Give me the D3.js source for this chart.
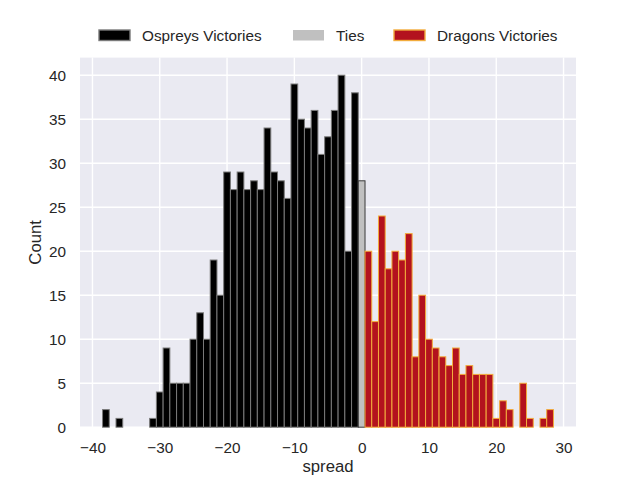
<!DOCTYPE html>
<html>
<head>
<meta charset="utf-8">
<script src="https://cdn.jsdelivr.net/npm/d3@7"></script>
<style>
  html, body { margin: 0; padding: 0; background: #ffffff; }
  svg { display: block; }
  text { font-family: "Liberation Sans", Arial, sans-serif; fill: #262626; }
</style>
</head>
<body>
<svg id="chart" width="640" height="480"></svg>
<script>
// ---- data ----
const ospreysSpread = d3.range(-38, 0);
const ospreysCounts = [2,0,1,0,0,0,0,1,4,9,5,5,5,10,13,10,19,15,29,27,29,27,28,27,34,29,28,26,39,35,34,36,31,33,36,40,20,38];
const tiesSpread = [0];
const tiesCounts = [28];
const dragonsSpread = d3.range(1, 29);
const dragonsCounts = [20,12,24,18,20,19,22,8,15,10,9,8,7,9,6,7,6,6,6,1,3,2,0,5,1,0,1,2];
const xTicks = [-40, -30, -20, -10, 0, 10, 20, 30];
const yTicks = [0, 5, 10, 15, 20, 25, 30, 35, 40];
const seriesNames = ["Ospreys Victories", "Ties", "Dragons Victories"];

const series = [
  { name: seriesNames[0], spread: ospreysSpread, counts: ospreysCounts, fill: "#000000", stroke: "#7a7a7a" },
  { name: seriesNames[1], spread: tiesSpread, counts: tiesCounts, fill: "#c0c0c0", stroke: "#3a3a3a" },
  { name: seriesNames[2], spread: dragonsSpread, counts: dragonsCounts, fill: "#b3121e", stroke: "#f2ac3c" }
];

// ---- layout ----
const svg = d3.select("#chart");
const L = 80, R = 576, T = 57.6, B = 427.2;

const allSpread = [].concat(ospreysSpread, tiesSpread, dragonsSpread);
const lo = d3.min(allSpread) - 0.5, hi = d3.max(allSpread) + 0.5;
const pad = (hi - lo) * 0.05;
const x = d3.scaleLinear().domain([lo - pad, hi + pad]).range([L, R]);
const yMax = d3.max([].concat(ospreysCounts, tiesCounts, dragonsCounts)) * 1.05;
const y = d3.scaleLinear().domain([0, yMax]).range([B, T]);

// background
svg.append("rect").attr("x", L).attr("y", T).attr("width", R - L).attr("height", B - T).attr("fill", "#eaeaf2");

// grid
const grid = svg.append("g");
grid.selectAll(".gx").data(xTicks).join("line")
  .attr("x1", d => x(d)).attr("x2", d => x(d)).attr("y1", T).attr("y2", B)
  .attr("stroke", "#ffffff").attr("stroke-width", 1.4);
grid.selectAll(".gy").data(yTicks).join("line")
  .attr("x1", L).attr("x2", R).attr("y1", d => y(d)).attr("y2", d => y(d))
  .attr("stroke", "#ffffff").attr("stroke-width", 1.4);

// bars
series.forEach(s => {
  const data = s.spread.map((v, i) => ({ v, c: s.counts[i] })).filter(d => d.c > 0);
  svg.append("g").selectAll("rect").data(data).join("rect")
    .attr("x", d => x(d.v - 0.5))
    .attr("width", d => x(d.v + 0.5) - x(d.v - 0.5))
    .attr("y", d => y(d.c))
    .attr("height", d => y(0) - y(d.c))
    .attr("fill", s.fill)
    .attr("stroke", s.stroke)
    .attr("stroke-width", 1);
});

// axes
const xAxis = d3.axisBottom(x).tickValues(xTicks).tickSize(0).tickPadding(15);
const gx = svg.append("g").attr("transform", `translate(0,${B})`).call(xAxis);
gx.select(".domain").remove();
gx.selectAll("text").attr("font-size", "15.3px").style("fill", "#262626")
  .attr("font-family", "'Liberation Sans', Arial, sans-serif");

const yAxis = d3.axisLeft(y).tickValues(yTicks).tickSize(0).tickPadding(14);
const gy = svg.append("g").attr("transform", `translate(${L},0)`).call(yAxis);
gy.select(".domain").remove();
gy.selectAll("text").attr("font-size", "15.3px").style("fill", "#262626")
  .attr("font-family", "'Liberation Sans', Arial, sans-serif");

// axis labels
svg.append("text").attr("x", (L + R) / 2).attr("y", 472).attr("text-anchor", "middle")
  .attr("font-size", "16.7px").text("spread");
svg.append("text").attr("transform", `translate(41,${(T + B) / 2}) rotate(-90)`)
  .attr("text-anchor", "middle").attr("font-size", "16.7px").text("Count");

// legend
const legendX = [99, 293, 394];
const leg = svg.append("g");
series.forEach((s, i) => {
  const g = leg.append("g").attr("transform", `translate(${legendX[i]},0)`);
  g.append("rect").attr("x", 0).attr("y", 30).attr("width", 31).attr("height", 10.5)
    .attr("fill", s.fill).attr("stroke", s.stroke).attr("stroke-width", i === 1 ? 0 : 1.4);
  g.append("text").attr("x", 43).attr("y", 41).attr("font-size", "15.3px").text(s.name);
});
</script>
</body>
</html>
